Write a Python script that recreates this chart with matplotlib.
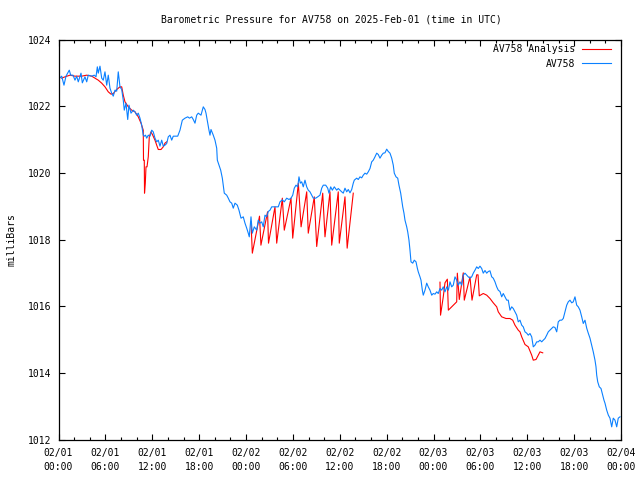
import numpy as np
import matplotlib
matplotlib.use("Agg")
import matplotlib.pyplot as plt
from matplotlib.ticker import MultipleLocator

# ---------------- data (hours since 2025-02-01 00:00 UTC, millibars) ----------------
obs_hours = [0.19, 0.41, 0.70, 0.96, 1.38, 1.56, 1.86, 2.11, 2.33, 2.53, 2.88, 3.05, 3.39, 3.61, 3.81,
             4.25, 4.58, 4.80, 4.97, 5.09, 5.31, 5.53, 5.73, 5.95, 6.17, 6.37, 6.59, 6.81, 7.01, 7.23,
             7.45, 7.65, 7.87, 8.09, 8.29, 8.42, 8.64, 8.86, 9.02, 9.28, 9.57, 9.79, 10.01, 10.21, 10.43,
             10.65, 10.85, 10.98, 11.14, 11.29, 11.49, 11.71, 11.93, 12.13, 12.35, 12.57, 12.77, 12.99,
             13.21, 13.41, 13.63, 13.85, 14.05, 14.27, 14.49, 14.69, 14.91, 15.26, 15.55, 15.85, 16.19,
             16.54, 16.77, 17.05, 17.25, 17.47, 17.69, 17.89, 18.24, 18.53, 18.75, 18.88, 19.10, 19.26,
             19.39, 19.52, 19.81, 20.03, 20.25, 20.33, 20.54, 20.76, 20.97, 21.09, 21.22, 21.53, 21.73,
             21.95, 22.17, 22.37, 22.59, 22.89, 23.10, 23.36, 23.65, 23.87, 24.09, 24.29, 24.42, 24.64,
             24.81, 25.06, 25.37, 25.57, 25.79, 26.01, 26.21, 26.43, 26.65, 26.85, 27.07, 27.29, 27.71,
             28.13, 28.35, 28.65, 28.90, 29.21, 29.50, 29.76, 29.98, 30.18, 30.40, 30.62, 30.78, 30.95,
             31.13, 31.33, 31.55, 31.77, 31.97, 32.19, 32.41, 32.61, 32.92, 33.18, 33.47, 33.69, 33.89,
             34.20, 34.46, 34.62, 34.84, 35.05, 35.30, 35.61, 35.81, 36.03, 36.25, 36.45, 36.67, 36.89,
             37.09, 37.31, 37.53, 37.73, 37.86, 38.17, 38.37, 38.59, 38.81, 39.01, 39.23, 39.45, 39.65,
             39.87, 40.09, 40.29, 40.51, 40.73, 40.93, 41.15, 41.37, 41.57, 41.79, 42.01, 42.21, 42.43,
             42.65, 42.85, 42.98, 43.20, 43.42, 43.58, 43.80, 43.93, 44.06, 44.22, 44.35, 44.57, 44.70,
             44.86, 44.99, 45.12, 45.34, 45.54, 45.76, 45.93, 46.05, 46.27, 46.40, 46.57, 46.69, 46.91,
             47.13, 47.33, 47.55, 47.77, 47.97, 48.19, 48.41, 48.61, 48.83, 49.05, 49.25, 49.47, 49.70,
             49.90, 50.11, 50.33, 50.53, 50.75, 50.97, 51.17, 51.39, 51.61, 51.81, 52.03, 52.25, 52.45,
             52.67, 52.89, 53.09, 53.31, 53.53, 53.73, 53.95, 54.17, 54.37, 54.59, 54.81, 55.01, 55.23,
             55.45, 55.65, 55.87, 56.09, 56.29, 56.51, 56.73, 56.93, 57.15, 57.37, 57.57, 57.79, 58.01,
             58.21, 58.43, 58.65, 58.85, 59.07, 59.29, 59.49, 59.71, 59.93, 60.13, 60.35, 60.57, 60.77,
             60.99, 61.21, 61.41, 61.63, 61.85, 62.05, 62.27, 62.49, 62.69, 62.91, 63.13, 63.33, 63.55,
             63.77, 63.97, 64.19, 64.41, 64.61, 64.83, 65.05, 65.25, 65.47, 65.69, 65.89, 66.11, 66.33,
             66.53, 66.75, 66.97, 67.17, 67.39, 67.61, 67.81, 68.03, 68.25, 68.45, 68.67, 68.80, 68.89,
             69.02, 69.22, 69.44, 69.66, 69.82, 69.95, 70.17, 70.38, 70.59, 70.81, 71.01, 71.23, 71.45,
             71.65, 71.87]
obs_mb = [1022.85, 1022.90, 1022.63, 1022.90, 1023.08, 1022.93, 1022.93, 1022.78, 1022.90, 1022.73,
          1022.99, 1022.70, 1022.88, 1022.73, 1022.93, 1022.90, 1022.93, 1022.88, 1023.18, 1022.99,
          1023.20, 1022.84, 1022.78, 1023.03, 1022.63, 1022.93, 1022.54, 1022.39, 1022.30, 1022.48,
          1022.45, 1023.03, 1022.58, 1022.50, 1022.18, 1021.88, 1022.09, 1021.60, 1022.03, 1021.79,
          1021.88, 1021.83, 1021.73, 1021.79, 1021.64, 1021.43, 1021.13, 1021.10, 1021.13, 1021.04,
          1021.13, 1021.10, 1021.28, 1021.23, 1021.04, 1020.93, 1020.98, 1020.80, 1020.98, 1020.80,
          1020.83, 1020.88, 1021.08, 1021.13, 1020.98, 1021.10, 1021.10, 1021.10, 1021.28, 1021.58,
          1021.64, 1021.68, 1021.64, 1021.68, 1021.60, 1021.49, 1021.73, 1021.79, 1021.73, 1021.98,
          1021.90, 1021.79, 1021.49, 1021.28, 1021.13, 1021.30, 1021.13, 1020.98, 1020.74, 1020.38,
          1020.23, 1020.08, 1019.84, 1019.63, 1019.39, 1019.33, 1019.24, 1019.13, 1019.09, 1018.94,
          1019.09, 1019.03, 1018.88, 1018.64, 1018.68, 1018.49, 1018.34, 1018.19, 1018.08, 1018.68,
          1018.19, 1018.38, 1018.28, 1018.58, 1018.49, 1018.53, 1018.38, 1018.73, 1018.68, 1018.84,
          1018.88, 1018.98, 1018.98, 1018.98, 1019.13, 1019.19, 1019.13, 1019.24, 1019.20, 1019.24,
          1019.33, 1019.54, 1019.63, 1019.58, 1019.88, 1019.69, 1019.73, 1019.58, 1019.78, 1019.58,
          1019.48, 1019.43, 1019.33, 1019.24, 1019.24, 1019.28, 1019.33, 1019.54, 1019.63, 1019.63,
          1019.54, 1019.39, 1019.58, 1019.48, 1019.58, 1019.48, 1019.53, 1019.48, 1019.43, 1019.39,
          1019.54, 1019.43, 1019.50, 1019.40, 1019.50, 1019.69, 1019.78, 1019.84, 1019.80, 1019.88,
          1019.85, 1019.93, 1019.99, 1019.96, 1020.03, 1020.13, 1020.33, 1020.38, 1020.48, 1020.59,
          1020.55, 1020.44, 1020.53, 1020.59, 1020.60, 1020.71, 1020.64, 1020.59, 1020.44, 1020.23,
          1019.99, 1019.88, 1019.84, 1019.63, 1019.39, 1019.19, 1018.98, 1018.79, 1018.58, 1018.38,
          1018.23, 1017.98, 1017.68, 1017.33, 1017.29, 1017.38, 1017.33, 1017.14, 1017.03, 1016.88,
          1016.78, 1016.48, 1016.33, 1016.48, 1016.69, 1016.58, 1016.48, 1016.33, 1016.38, 1016.36,
          1016.43, 1016.38, 1016.53, 1016.48, 1016.58, 1016.43, 1016.58, 1016.48, 1016.73, 1016.58,
          1016.63, 1016.88, 1016.78, 1016.63, 1016.73, 1016.63, 1016.93, 1016.99, 1016.93, 1016.88,
          1016.84, 1016.88, 1016.99, 1017.08, 1017.18, 1017.13, 1017.20, 1017.13, 1016.99, 1017.07,
          1016.99, 1017.04, 1017.06, 1016.88, 1016.84, 1016.73, 1016.58, 1016.48, 1016.44, 1016.28,
          1016.38, 1016.28, 1016.18, 1016.18, 1015.88, 1015.98, 1015.93, 1015.83, 1015.73, 1015.53,
          1015.58, 1015.43, 1015.38, 1015.23, 1015.19, 1015.13, 1015.18, 1015.08, 1014.78, 1014.83,
          1014.93, 1014.93, 1014.98, 1014.93, 1014.98, 1015.03, 1015.13, 1015.23, 1015.28, 1015.33,
          1015.38, 1015.36, 1015.23, 1015.53, 1015.58, 1015.58, 1015.63, 1015.83, 1016.03, 1016.13,
          1016.18, 1016.10, 1016.13, 1016.28, 1016.03, 1015.98, 1015.88, 1015.68, 1015.48, 1015.58,
          1015.34, 1015.19, 1015.04, 1014.83, 1014.63, 1014.38, 1014.18, 1013.93, 1013.73, 1013.58,
          1013.53, 1013.33, 1013.18, 1013.09, 1012.88, 1012.73, 1012.64, 1012.38, 1012.64, 1012.58,
          1012.38, 1012.64, 1012.68]

# analysis series, NaN separates the three analysis runs
ana_hours = [0.41, 0.83, 1.47, 2.11, 2.97, 3.61, 4.25, 4.67, 5.09, 5.53, 5.95, 6.37, 6.72, 7.01, 7.45,
             7.87, 8.09, 8.29, 8.51, 8.93, 9.37, 9.79, 10.21, 10.56, 10.85, 10.88, 10.98, 11.01, 11.11,
             11.20, 11.33, 11.49, 11.62, 11.84, 12.06, 12.35, 12.57, 12.77, 13.12, 13.41, 13.63, 13.85,
             np.nan,
             24.64, 24.81, 25.73, 25.91, 26.76, 26.88, 27.71, 27.93, 28.65, 28.90, 29.76, 29.98, 30.70,
             31.05, 31.77, 31.97, 32.74, 33.05, 33.82, 34.11, 34.75, 34.97, 35.81, 35.94, 36.67, 36.95,
             37.73,
             np.nan,
             48.83, 48.90, 49.25, 49.47, 49.77, 49.90, 50.97, 51.05, 51.30, 51.81, 51.94, 52.67, 52.93,
             53.53, 53.70, 53.86, 54.37, 54.81, 55.23, 55.65, 56.09, 56.29, 56.73, 57.28, 57.79, 58.14,
             58.43, 58.85, 59.07, 59.29, 59.71, 60.13, 60.57, 60.77, 61.12, 61.41, 61.63, 61.98]
ana_mb = [1022.84, 1022.88, 1022.93, 1022.90, 1022.90, 1022.93, 1022.90, 1022.84, 1022.78, 1022.69,
          1022.58, 1022.43, 1022.36, 1022.38, 1022.50, 1022.58, 1022.58, 1022.33, 1022.13, 1021.98,
          1021.88, 1021.83, 1021.68, 1021.49, 1021.28, 1020.38, 1020.38, 1019.39, 1019.69, 1020.18,
          1020.18, 1020.48, 1021.08, 1021.23, 1021.13, 1020.98, 1020.83, 1020.70, 1020.70, 1020.78,
          1020.89, 1020.93,
          np.nan,
          1018.53, 1017.59, 1018.70, 1017.83, 1018.83, 1017.89, 1018.98, 1017.89, 1019.24, 1018.28,
          1019.24, 1018.04, 1019.69, 1018.38, 1019.43, 1018.19, 1019.28, 1017.79, 1019.39, 1018.08,
          1019.43, 1017.83, 1019.43, 1017.89, 1019.28, 1017.74, 1019.39,
          np.nan,
          1016.72, 1015.73, 1016.28, 1016.70, 1016.81, 1015.88, 1016.13, 1016.99, 1016.20, 1017.00,
          1016.18, 1016.88, 1016.18, 1016.94, 1016.94, 1016.31, 1016.38, 1016.33, 1016.23, 1016.10,
          1015.98, 1015.83, 1015.68, 1015.63, 1015.63, 1015.58, 1015.43, 1015.28, 1015.23, 1015.08,
          1014.85, 1014.78, 1014.53, 1014.38, 1014.40, 1014.53, 1014.63, 1014.60]

tick_hours = [0, 6, 12, 18, 24, 30, 36, 42, 48, 54, 60, 66, 72]
tick_labels = ["02/01\n00:00", "02/01\n06:00", "02/01\n12:00", "02/01\n18:00",
               "02/02\n00:00", "02/02\n06:00", "02/02\n12:00", "02/02\n18:00",
               "02/03\n00:00", "02/03\n06:00", "02/03\n12:00", "02/03\n18:00",
               "02/04\n00:00"]
y_ticks = [1012, 1014, 1016, 1018, 1020, 1022, 1024]

title = "Barometric Pressure for AV758 on 2025-Feb-01 (time in UTC)"
ylabel = "milliBars"
label_ana = "AV758 Analysis"
label_obs = "AV758"

# ---------------- drawing ----------------
plt.rcParams['font.family'] = ['DejaVu Sans Mono']
FS = 7.0

fig = plt.figure(figsize=(6.4, 4.8), dpi=100)
ax = fig.add_axes([58.5 / 640, 1 - 439.5 / 480, (621 - 58.5) / 640, 400 / 480])

ax.plot(ana_hours, ana_mb, color='#ff0000', lw=0.8, label=label_ana)
ax.plot(obs_hours, obs_mb, color='#0a80ff', lw=0.8, label=label_obs)

ax.set_xlim(0, 72)
ax.set_ylim(1012, 1024)
ax.set_xticks(tick_hours)
ax.set_xticklabels(tick_labels, fontsize=FS, linespacing=1.5)
ax.xaxis.set_minor_locator(MultipleLocator(2))
ax.set_yticks(y_ticks)
ax.set_yticklabels([str(v) for v in y_ticks], fontsize=FS)

ax.tick_params(axis='both', which='major', direction='in', length=4, width=0.8,
               top=True, right=True, colors='black')
ax.tick_params(axis='x', which='major', pad=6)
ax.tick_params(axis='y', which='major', pad=5)
ax.tick_params(axis='x', which='minor', direction='in', length=2.5, width=0.8, top=True)
for s in ax.spines.values():
    s.set_linewidth(0.9)
    s.set_color('black')

fig.text(331 / 640, 1 - 19 / 480, title, ha='center', va='center', fontsize=FS)
fig.text(12 / 640, 0.5, ylabel, ha='center', va='center', rotation=90, fontsize=FS)

leg = ax.legend(loc='upper right', bbox_to_anchor=(1.0 - 10 / 562.5, 1.0 - 5 / 400), frameon=False,
                markerfirst=False, fontsize=FS, handlelength=3.0, handletextpad=0.7,
                labelspacing=0.45, borderaxespad=0.0, borderpad=0.0)

fig.savefig("out.png", dpi=100)
